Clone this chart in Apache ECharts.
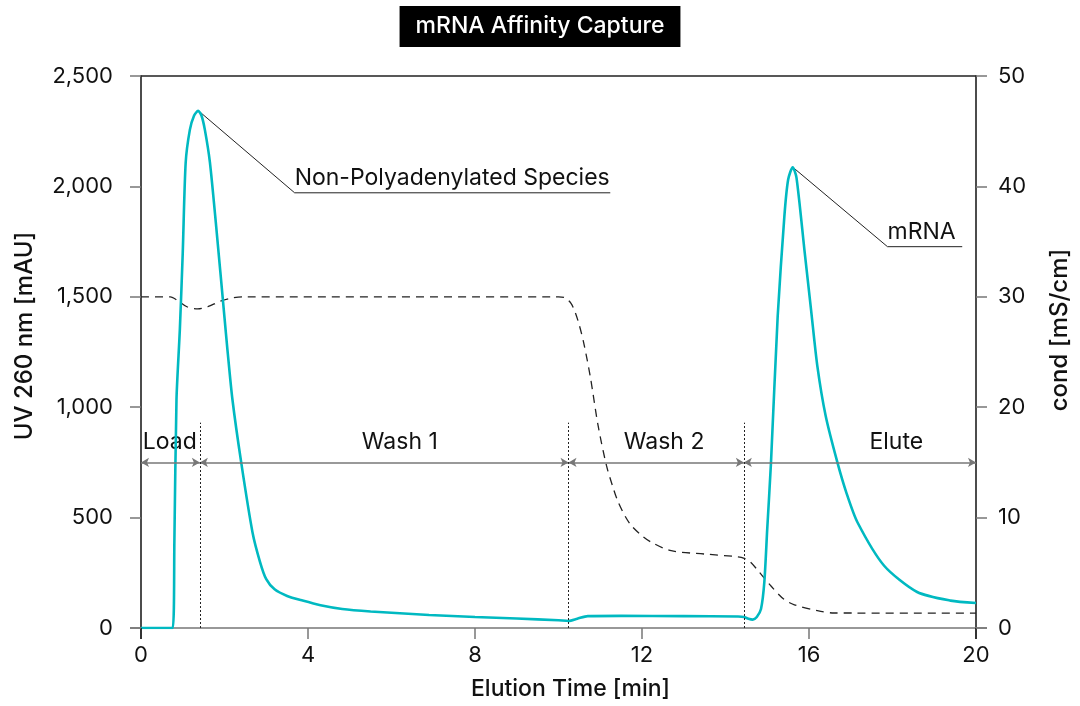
<!DOCTYPE html>
<html>
<head>
<meta charset="utf-8">
<script src="https://cdn.jsdelivr.net/npm/echarts@6/dist/echarts.min.js"></script>
<style>
  html, body { margin: 0; padding: 0; background: #fff; overflow: hidden; }
  #chart { width: 1080px; height: 706px; }
</style>
</head>
<body>
<div id="chart"></div>
<script>
// UV 260 nm trace: elution time [min] and absorbance [mAU]
const uvTime = [0, 0.76, 0.80, 0.85, 0.93, 1.00, 1.07, 1.17, 1.27, 1.37, 1.45, 1.53, 1.65, 1.80, 2.00, 2.07, 2.19, 2.40, 2.67, 2.85, 3.00, 3.20, 3.50, 3.87, 4.30, 4.82, 5.50, 6.90, 8.00, 9.00, 10.00, 10.24, 10.45, 10.70, 11.50, 13.00, 14.30, 14.44, 14.55, 14.65, 14.75, 14.85, 14.93, 15.00, 15.09, 15.25, 15.41, 15.50, 15.61, 15.70, 15.89, 16.05, 16.20, 16.40, 16.68, 16.90, 17.16, 17.80, 18.59, 19.39, 20.00];
const uvValue = [0, 0, 400, 1035, 1350, 1700, 2107, 2256, 2320, 2342, 2320, 2256, 2110, 1820, 1406, 1261, 1035, 750, 434, 300, 221, 175, 145, 124, 103, 86, 75, 59, 50, 43, 35, 32, 42, 54, 55, 54, 52, 50, 42, 38, 50, 86, 208, 450, 750, 1412, 1864, 2030, 2087, 2040, 1713, 1440, 1186, 960, 750, 610, 479, 282, 163, 124, 113];

// Conductivity trace [mS/cm]
const condTime = [0, 0.70, 0.90, 1.10, 1.36, 1.60, 1.90, 2.20, 2.43, 10.00, 10.16, 10.30, 10.40, 10.50, 10.60, 10.76, 10.95, 11.15, 11.30, 11.43, 11.60, 11.75, 12.00, 12.23, 12.70, 13.50, 14.30, 14.45, 14.60, 14.80, 15.09, 15.40, 15.65, 16.20, 16.60, 20.00];
const condValue = [30, 30, 29.6, 29.1, 28.9, 29.1, 29.6, 29.9, 30, 30, 29.9, 29.4, 28.6, 27.4, 25.9, 22.8, 18.3, 14.7, 12.8, 11.4, 10.1, 9.25, 8.35, 7.75, 7.0, 6.7, 6.45, 6.3, 5.97, 5.1, 3.8, 2.6, 2.1, 1.57, 1.36, 1.35];

// Process phases: boundaries [min], names and where each name sits
const phaseBounds = [0, 1.41, 10.24, 14.44, 20];
const phaseNames = ['Load', 'Wash 1', 'Wash 2', 'Elute'];
const phaseLabelTime = [0.69, 6.2, 12.53, 18.09];
const phaseArrowLevel = 750;     // mAU
const phaseLabelLevel = 841;     // mAU
const phaseDividerTop = 930;     // mAU

// Peak callouts: leader line points (time, mAU) and text
const calloutNames = ['Non-Polyadenylated Species', 'mRNA'];
const calloutLines = [
  [[1.38, 2342], [3.68, 1971], [11.24, 1971]],
  [[15.63, 2084], [17.88, 1727], [19.67, 1727]]
];
const calloutTextAt = [[3.68, 2039], [17.88, 1795]];

// Axis ticks
const xTicks = [0, 4, 8, 12, 16, 20];
const uvTicks = ['0', '500', '1,000', '1,500', '2,000', '2,500'];
const condTicks = ['0', '10', '20', '30', '40', '50'];

const FONT = 'Inter';
const TEXT = '#111111';
const TEAL = '#00b9c1';
const GREY = '#777777';

const zip = (a, b) => a.map((v, i) => [v, b[i]]);

const phaseArrows = [];
for (let i = 0; i < phaseBounds.length - 1; i++) {
  phaseArrows.push([
    { coord: [phaseBounds[i], phaseArrowLevel] },
    { coord: [phaseBounds[i + 1], phaseArrowLevel] }
  ]);
}
const phaseDividers = phaseBounds.slice(1, -1).map(t => [
  { coord: [t, 0] }, { coord: [t, phaseDividerTop] }
]);

const chart = echarts.init(document.getElementById('chart'), null, { renderer: 'canvas' });

const annotationText = { color: TEXT, opacity: 1, fontFamily: FONT, fontSize: 23, fontWeight: 400 };

const series = [
  {
    name: 'cond',
    type: 'line',
    yAxisIndex: 1,
    data: zip(condTime, condValue),
    showSymbol: false,
    smooth: 0.3,
    lineStyle: { color: '#222', width: 1.3, type: [8, 6] },
    z: 2,
    silent: true
  },
  {
    name: 'UV 260',
    type: 'line',
    yAxisIndex: 0,
    data: zip(uvTime, uvValue),
    showSymbol: false,
    smooth: 0.25,
    lineStyle: { color: TEAL, width: 2.6 },
    z: 4,
    silent: true
  },
  {
    // phase arrows
    name: 'phases',
    type: 'line',
    yAxisIndex: 0,
    data: [],
    silent: true,
    z: 3,
    markLine: {
      silent: true,
      animation: false,
      label: { show: false },
      symbol: ['arrow', 'arrow'],
      symbolSize: [7, 8],
      lineStyle: { color: GREY, width: 1.6, type: 'solid' },
      itemStyle: { color: '#222' },
      data: phaseArrows
    }
  },
  {
    // phase dividers
    name: 'dividers',
    type: 'line',
    yAxisIndex: 0,
    data: [],
    silent: true,
    z: 3,
    markLine: {
      silent: true,
      animation: false,
      label: { show: false },
      symbol: ['none', 'none'],
      lineStyle: { color: '#222', width: 1, type: [2, 2] },
      data: phaseDividers
    }
  },
  {
    name: 'phase labels',
    type: 'scatter',
    yAxisIndex: 0,
    symbolSize: 0,
    silent: true,
    itemStyle: { opacity: 1 },
    data: phaseNames.map((n, i) => ({ value: [phaseLabelTime[i], phaseLabelLevel], name: n })),
    label: Object.assign({ show: true, position: 'inside', formatter: p => p.name }, annotationText)
  },
  {
    name: 'callout text',
    type: 'scatter',
    yAxisIndex: 0,
    symbolSize: 0,
    silent: true,
    itemStyle: { opacity: 1 },
    data: calloutNames.map((n, i) => ({ value: calloutTextAt[i], name: n })),
    label: Object.assign({ show: true, position: 'right', distance: 0, formatter: p => p.name }, annotationText)
  }
];

calloutLines.forEach((pts, i) => {
  series.push({
    name: 'callout ' + i,
    type: 'line',
    yAxisIndex: 0,
    data: pts,
    showSymbol: false,
    silent: true,
    lineStyle: { color: '#222', width: 1 },
    z: 3
  });
});

const axisLabelStyle = { color: TEXT, fontFamily: FONT, fontSize: 22, fontWeight: 400 };
const axisNameStyle = { color: TEXT, fontFamily: FONT, fontSize: 23, fontWeight: 500 };

chart.setOption({
  animation: false,
  backgroundColor: '#fff',
  title: {
    text: 'mRNA Affinity Capture',
    left: 'center',
    top: 6,
    backgroundColor: '#000',
    padding: [9, 16, 9, 16],
    textStyle: { color: '#fff', fontFamily: FONT, fontSize: 23, fontWeight: 500 }
  },
  grid: { left: 141, right: 101, top: 76, bottom: 77 },
  xAxis: [
    {
      type: 'value',
      min: 0, max: 20, interval: 4,
      name: 'Elution Time [min]',
      nameLocation: 'middle',
      nameGap: 50,
      nameTextStyle: Object.assign({ padding: [0, 0, 0, 24] }, axisNameStyle),
      axisLine: { show: true, lineStyle: { color: GREY, width: 1.5 } },
      axisTick: { show: true, length: 11, lineStyle: { color: GREY, width: 1.5 } },
      axisLabel: Object.assign({ margin: 16, formatter: v => String(xTicks[xTicks.indexOf(v)]) }, axisLabelStyle),
      splitLine: { show: false }
    },
    {
      // top frame line
      type: 'value',
      position: 'top',
      min: 0, max: 20,
      axisLine: { show: true, onZero: false, lineStyle: { color: '#222', width: 1.5 } },
      axisTick: { show: false },
      axisLabel: { show: false },
      splitLine: { show: false }
    }
  ],
  yAxis: [
    {
      type: 'value',
      min: 0, max: 2500, interval: 500,
      name: 'UV 260 nm [mAU]',
      nameLocation: 'middle',
      nameRotate: 90,
      nameGap: 104,
      nameTextStyle: Object.assign({ padding: [0, 0, 0, 32] }, axisNameStyle, { fontSize: 24 }),
      axisLine: { show: true, onZero: false, lineStyle: { color: '#111', width: 1.5 } },
      axisTick: { show: true, length: 11, lineStyle: { color: GREY, width: 1.5 } },
      axisLabel: Object.assign({ margin: 28, formatter: v => uvTicks[Math.round(v / 500)] }, axisLabelStyle),
      splitLine: { show: false }
    },
    {
      type: 'value',
      min: 0, max: 50, interval: 10,
      position: 'right',
      name: 'cond [mS/cm]',
      nameLocation: 'middle',
      nameRotate: 90,
      nameGap: 72,
      nameTextStyle: Object.assign({ padding: [0, 0, 0, 44] }, axisNameStyle, { fontSize: 24 }),
      axisLine: { show: true, onZero: false, lineStyle: { color: '#111', width: 1.5 } },
      axisTick: { show: true, length: 11, lineStyle: { color: GREY, width: 1.5 } },
      axisLabel: Object.assign({ margin: 22, formatter: v => condTicks[Math.round(v / 10)] }, axisLabelStyle),
      splitLine: { show: false }
    }
  ],
  series: series
});

// Short extensions of the frame lines past the plot corners
const p0 = chart.convertToPixel({ xAxisIndex: 0, yAxisIndex: 0 }, [0, 0]);
const p1 = chart.convertToPixel({ xAxisIndex: 0, yAxisIndex: 0 }, [20, 0]);
chart.setOption({
  graphic: [
    { type: 'line', shape: { x1: p0[0], y1: p0[1], x2: p0[0], y2: p0[1] + 11 }, style: { stroke: '#111', lineWidth: 1.5 }, z: 100, silent: true },
    { type: 'line', shape: { x1: p1[0], y1: p1[1], x2: p1[0], y2: p1[1] + 11 }, style: { stroke: '#111', lineWidth: 1.5 }, z: 100, silent: true },
    { type: 'line', shape: { x1: p0[0] - 11, y1: p0[1], x2: p0[0], y2: p0[1] }, style: { stroke: GREY, lineWidth: 1.5 }, z: 100, silent: true },
    { type: 'line', shape: { x1: p1[0], y1: p1[1], x2: p1[0] + 11, y2: p1[1] }, style: { stroke: GREY, lineWidth: 1.5 }, z: 100, silent: true }
  ]
});
</script>
</body>
</html>
